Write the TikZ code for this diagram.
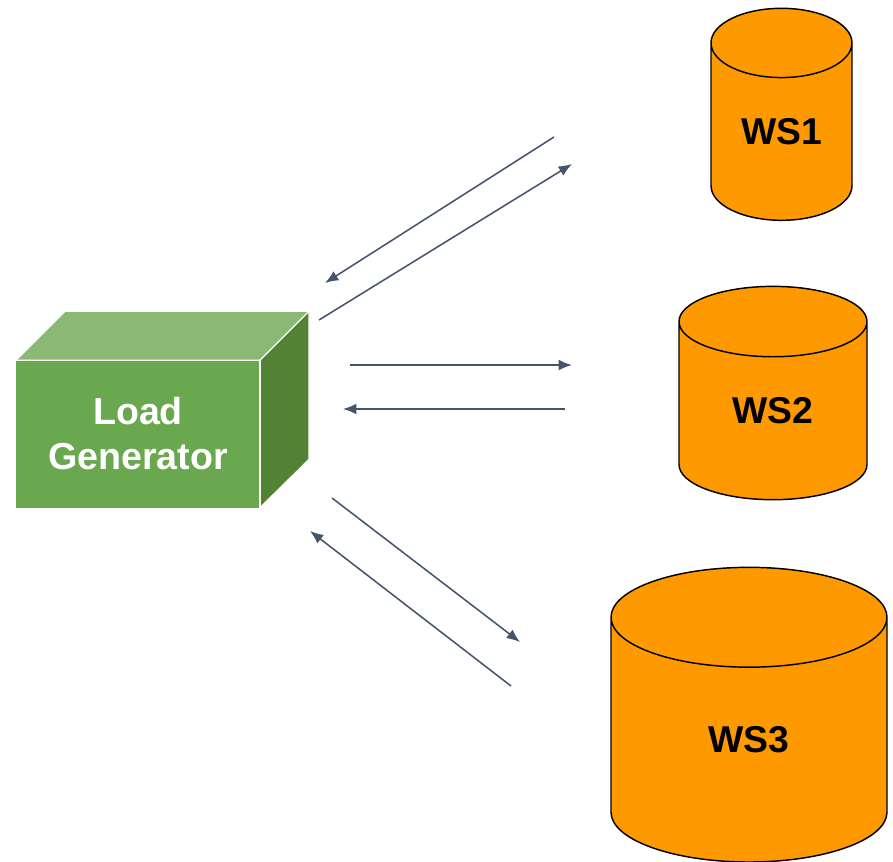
\documentclass[tikz,border=0pt]{standalone}
\usepackage{fontspec}
\setmainfont{Liberation Sans}
\usetikzlibrary{arrows.meta,shapes.geometric}

\definecolor{faceFront}{HTML}{6AA84F}
\definecolor{faceTop}{HTML}{8AB974}
\definecolor{faceSide}{HTML}{548235}
\definecolor{wsOrange}{HTML}{FF9900}
\definecolor{flowLine}{HTML}{44546A}

\tikzset{
    flow/.style={draw=flowLine, line width=1.15pt, -{Latex[length=10pt,width=8pt]}},
    server/.style={cylinder, shape border rotate=90, draw=black, fill=wsOrange, line width=1.1pt,
        inner sep=0pt, outer sep=0pt, font=\fontsize{28}{33}\selectfont\bfseries},
    face/.style={draw=white, line width=0.9pt}
}

\begin{document}
\begin{tikzpicture}[x=0.75pt, y=-0.75pt]
    \useasboundingbox (0,0) rectangle (893,862);

    % Load generator box
    \node (front) at (138,434) [rectangle, fill=faceFront, minimum width=183pt, minimum height=110.5pt, inner sep=0pt, outer sep=0pt,
        align=center, text=white, font=\fontsize{28.2}{33.75}\selectfont\bfseries] {Load \\ Generator};
    \filldraw[face, fill=faceTop] (front.north west) -- ++(49,-49) -- ++(245,0) -- (front.north east) -- cycle;
    \filldraw[face, fill=faceSide] (front.north east) -- ++(49,-49) -- ++(0,148) -- (front.south east) -- cycle;
    \draw[draw=white, line width=0.9pt] (front.north west) -- (front.north east) -- (front.south east);

    % Servers
    \node (ws1) at (781.5,132) [server, minimum width=105.75pt, minimum height=159pt, aspect=0.856] {WS1};
    \node (ws2) at (773,411) [server, minimum width=141pt, minimum height=160pt, aspect=0.87] {WS2};
    \node (ws3) at (749,740) [server, minimum width=207pt, minimum height=221pt, aspect=1.234] {WS3};

    % Arrow ends
    \coordinate (a1) at (554,137);
    \coordinate (b1) at (325,283);
    \coordinate (a2) at (319,320);
    \coordinate (b2) at (572,164);
    \coordinate (a3) at (350,365);
    \coordinate (b3) at (572,365);
    \coordinate (a4) at (565,409);
    \coordinate (b4) at (343,409);
    \coordinate (a5) at (332,498);
    \coordinate (b5) at (520,642);
    \coordinate (a6) at (511,686);
    \coordinate (b6) at (310,531);

    % Arrows
    \draw[flow] (a1) -- (b1);
    \draw[flow] (a2) -- (b2);
    \draw[flow] (a3) -- (b3);
    \draw[flow] (a4) -- (b4);
    \draw[flow] (a5) -- (b5);
    \draw[flow] (a6) -- (b6);
\end{tikzpicture}
\end{document}
